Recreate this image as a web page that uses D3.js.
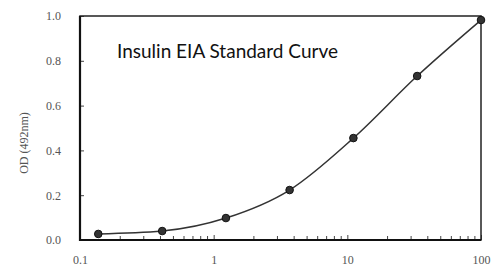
<!DOCTYPE html>
<html>
<head>
<script src="https://d3js.org/d3.v7.min.js"></script>
<style>
  body { margin: 0; background: #fff; }
  .tick text { font-family: "Liberation Serif", "DejaVu Serif", serif; font-size: 12px; fill: #555; }
</style>
</head>
<body>
<script>
var width = 491, height = 271;

// standard concentrations (ng/mL) and measured OD
var conc = [0.137, 0.412, 1.235, 3.70, 11.1, 33.3, 100];
var od = [0.027, 0.040, 0.098, 0.223, 0.455, 0.732, 0.982];
var yTicks = [0, 0.2, 0.4, 0.6, 0.8, 1.0];
var xTicks = [0.1, 1, 10, 100];
var xLabels = ["0.1", "1", "10", "100"];

var mLeft = 80, mRight = 481, mTop = 16, mBottom = 240;

var x = d3.scaleLog().domain([0.1, 100]).range([mLeft, mRight]);
var y = d3.scaleLinear().domain([0, 1]).range([mBottom, mTop]);

var svg = d3.select("body").append("svg")
  .attr("width", width)
  .attr("height", height);

// minor ticks on log axis
var minor = [];
[0.1, 1, 10].forEach(function(d) {
  for (var k = 2; k <= 9; k++) minor.push(d * k);
});
svg.append("g").selectAll("line")
  .data(minor).enter().append("line")
  .attr("x1", d => x(d)).attr("x2", d => x(d))
  .attr("y1", mBottom).attr("y2", mBottom - 4)
  .attr("stroke", "#444").attr("stroke-width", 1);

// y axis
var yAxis = svg.append("g")
  .attr("transform", "translate(" + mLeft + ",0)")
  .call(d3.axisLeft(y).tickValues(yTicks).tickSize(-4).tickPadding(19)
    .tickFormat(d3.format(".1f")));
yAxis.select(".domain").remove();
yAxis.selectAll(".tick line").attr("stroke", "#444");

// x axis
var xAxis = svg.append("g")
  .attr("transform", "translate(0," + mBottom + ")")
  .call(d3.axisBottom(x).tickValues(xTicks).tickSize(-5).tickPadding(15)
    .tickFormat((d, i) => xLabels[i]));
xAxis.select(".domain").remove();
xAxis.selectAll(".tick line").attr("stroke", "#444");

// frame
svg.append("rect")
  .attr("x", mLeft).attr("y", mTop)
  .attr("width", mRight - mLeft).attr("height", mBottom - mTop)
  .attr("fill", "none").attr("stroke", "#222").attr("stroke-width", 1.5);
svg.append("path")
  .attr("d", "M" + mLeft + "," + mTop + "V" + mBottom + "H" + mRight)
  .attr("fill", "none").attr("stroke", "#111").attr("stroke-width", 2.2);

// curve
var line = d3.line()
  .x((d, i) => x(conc[i]))
  .y(d => y(d))
  .curve(d3.curveMonotoneX);

svg.append("path")
  .datum(od)
  .attr("d", line)
  .attr("fill", "none")
  .attr("stroke", "#333")
  .attr("stroke-width", 1.5);

svg.append("g").selectAll("circle")
  .data(od).enter().append("circle")
  .attr("cx", (d, i) => x(conc[i]))
  .attr("cy", d => y(d))
  .attr("r", 3.8)
  .attr("fill", "#333")
  .attr("stroke", "#111")
  .attr("stroke-width", 1);

// title
svg.append("text")
  .attr("x", 117).attr("y", 58)
  .attr("font-family", "Lato, 'Open Sans', sans-serif")
  .attr("font-size", 19)
  .attr("fill", "#111")
  .text("Insulin EIA Standard Curve");

// y label
svg.append("text")
  .attr("transform", "translate(28,143) rotate(-90)")
  .attr("text-anchor", "middle")
  .attr("font-family", "'Liberation Serif', serif")
  .attr("font-size", 12)
  .attr("fill", "#555")
  .text("OD (492nm)");
</script>
</body>
</html>
